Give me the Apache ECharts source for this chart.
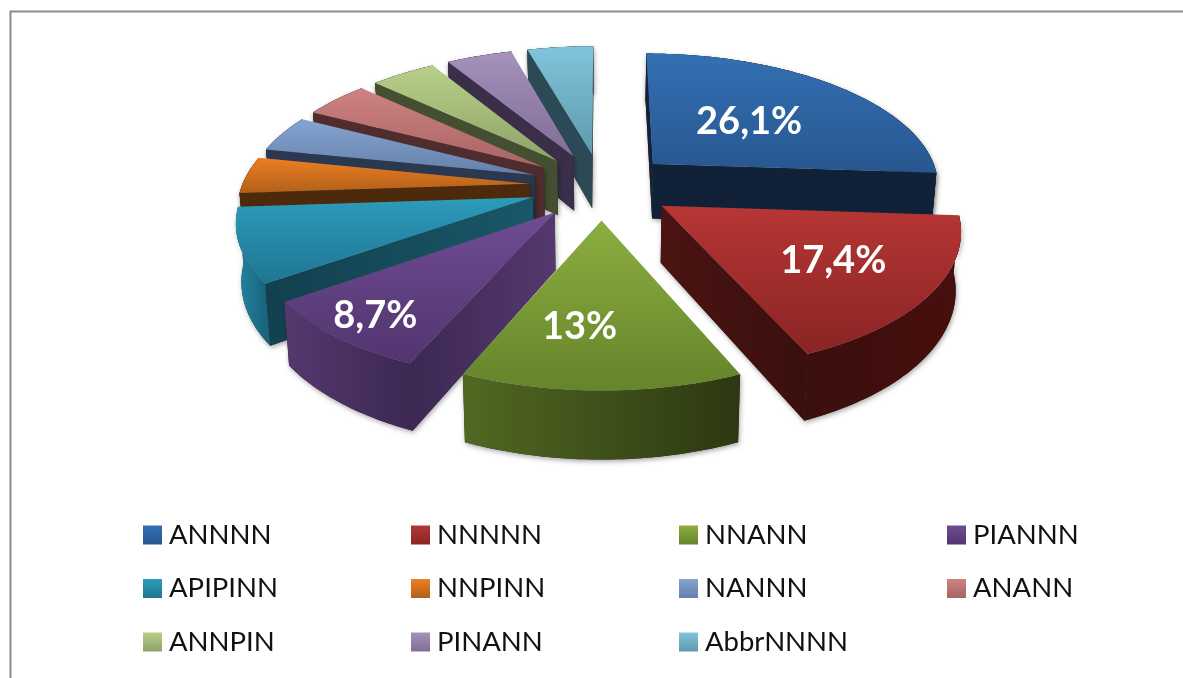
<!DOCTYPE html>
<html>
<head>
<meta charset="utf-8">
<style>html,body{margin:0;padding:0;background:#fff}#c{width:1183px;height:678px}</style>
<script src="https://cdn.jsdelivr.net/npm/echarts@6/dist/echarts.min.js"></script>
</head>
<body>
<div id="c"></div>
<script>
const categories = ['ANNNN','NNNNN','NNANN','PIANNN','APIPINN','NNPINN','NANNN','ANANN','ANNPIN','PINANN','AbbrNNNN'];
const values = [26.1,17.4,13,8.7,8.7,4.35,4.35,4.35,4.35,4.35,4.35];
const labels = ['26,1%','17,4%','13%','8,7%','','','','','','',''];
const topColors = [['#3370b3','#28568f'],['#b63635','#8a2424'],['#8bae3f','#65842c'],['#6e4c92','#52356f'],['#2d9cbb','#1f7591'],['#ee7f22','#b0601a'],['#86a4d2','#6480a8'],['#cf8282','#a86464'],['#b8d08a','#8ea368'],['#a591bc','#806e96'],['#80c4db','#5f9aad']];
const arcColors = [['#14263f','#102035'],['#3a0f0d','#470f0d'],['#516822','#2c3811'],['#54386f','#3c2852'],['#2387a5','#175f76'],['#54300d','#4a280a'],['#2c3a52','#28344a'],['#52302f','#4c2b2c'],['#465232','#404b2e'],['#3f334c','#372c44'],['#314f5a','#2b4650']];
const wallColors = [['#112238','#112238'],['#4a1412','#3a0f0d'],['#3f4f1a','#3f4f1a'],['#3c2852','#54386f'],['#12404f','#195768'],['#4d2a0b','#4d2a0b'],['#2a3850','#2a3850'],['#4f2d2f','#4f2d2f'],['#434f30','#434f30'],['#3a2e48','#3a2e48'],['#2c4a55','#2c4a55']];
const labelNudge = [[-17,7],[16,4],[-22,11],[-55,32],[0,0],[0,0],[0,0],[0,0],[0,0],[0,0],[0,0]];

const P = {cx:601.5, cy:186, f:288, a:0.15, b:133, d:0.25, h:56, shrink:0.985};
const total = values.reduce((s,v)=>s+v,0);
const starts = values.map((_,i)=>values.slice(0,i).reduce((s,v)=>s+v,0)/total*Math.PI*2);

function proj(u,v,bottom){
  const w = 1 - P.a*v;
  let x = P.f*u/w, y = P.b*v/w;
  if(bottom){ x *= P.shrink; y += P.h/w; }
  return [P.cx+x, P.cy+y];
}
function model(theta,r,mid){
  return [P.d*Math.sin(mid)+r*Math.sin(theta), -P.d*Math.cos(mid)-r*Math.cos(theta)];
}
function vgrad(c){return new echarts.graphic.LinearGradient(0,0,0,1,[{offset:0,color:c[0]},{offset:1,color:c[1]}]);}
function hgrad(c){return new echarts.graphic.LinearGradient(0,0,1,0,[{offset:0,color:c[0]},{offset:1,color:c[1]}]);}
const shadow = {shadowColor:'rgba(0,0,0,0.35)',shadowBlur:5,shadowOffsetX:1,shadowOffsetY:2};

function renderSlice(params, api){
  const i = params.seriesIndex;
  const val = api.value(0);
  const t0 = starts[i], t1 = t0 + val/total*Math.PI*2, mid=(t0+t1)/2;
  const n = Math.max(4,Math.round((t1-t0)/(Math.PI/180)));
  const apexM = model(0,0,mid);
  const apexT = proj(apexM[0],apexM[1],false), apexB = proj(apexM[0],apexM[1],true);
  const rimT=[], rimB=[];
  for(let k=0;k<=n;k++){
    const m = model(t0+(t1-t0)*k/n,1,mid);
    rimT.push(proj(m[0],m[1],false));
    rimB.push(proj(m[0],m[1],true));
  }
  const arcPts = rimT.concat(rimB.slice().reverse());
  const walls=[];
  const midRim = rimT[Math.floor(n/2)];
  [rimT[0],rimT[n]].forEach((end,idx)=>{
    const e=[end[0]-apexT[0],end[1]-apexT[1]], p=[midRim[0]-apexT[0],midRim[1]-apexT[1]];
    const side = e[0]*p[1]-e[1]*p[0], down = e[0];
    if(side*down<0){
      walls.push([apexT,end,idx===0?rimB[0]:rimB[n],apexB]);
    }
  });
  const children=[];
  // shadow pass, then clean faces so that no shadow falls across the slice itself
  children.push({type:'polygon',shape:{points:arcPts},style:Object.assign({fill:'#222'},shadow)});
  walls.forEach(w=>children.push({type:'polygon',shape:{points:w},style:Object.assign({fill:'#222'},shadow)}));
  children.push({type:'polygon',shape:{points:arcPts},style:{fill:hgrad(arcColors[i])}});
  walls.forEach(w=>children.push({type:'polygon',shape:{points:w},style:{fill:hgrad(wallColors[i])}}));
  children.push({type:'polygon',shape:{points:[apexT].concat(rimT)},style:{fill:vgrad(topColors[i])}});
  if(labels[i]){
    const m = model(mid,0.6,mid), q = proj(m[0],m[1],false);
    children.push({type:'text',style:{text:labels[i],x:q[0]+labelNudge[i][0],y:q[1]+labelNudge[i][1],fill:'#fff',font:'bold 38px Lato',textAlign:'center',textVerticalAlign:'middle'}});
  }
  return {type:'group',children};
}

const depthOrder = values.map((_,i)=>{
  const mid = starts[i]+values[i]/total*Math.PI;
  return -Math.cos(mid);
});
const ranks = depthOrder.map(d=>depthOrder.filter(x=>x<d).length);

const legendCols = [0,1,2,3].map(c=>categories.filter((_,i)=>i%4===c));
const legendLeft = [143,411,679,947];

const option = {
  backgroundColor:'#fff',
  animation:false,
  legend: legendCols.map((names,c)=>({
    orient:'vertical', left:legendLeft[c], top:521, itemWidth:19, itemHeight:19, itemGap:25.5,
    selectedMode:false, icon:'rect', padding:0,
    textStyle:{fontFamily:'Lato',fontSize:27.5,color:'#111',lineHeight:19,padding:[0,0,0,2]},
    data:names.map(n=>({name:n,icon:'rect',itemStyle:{color:vgrad(topColors[categories.indexOf(n)])}}))
  })),
  graphic:[
    {type:'polyline',z:-1,silent:true,shape:{points:[[10.5,678],[10.5,11.5],[1183,11.5]]},style:{stroke:'#8c8c8c',lineWidth:2,fill:null}}
  ],
  series: categories.map((name,i)=>({
    type:'custom', name, coordinateSystem:'none', z:2+ranks[i], silent:true,
    renderItem:renderSlice, data:[[values[i]]], itemStyle:{color:topColors[i][0]}
  }))
};
echarts.init(document.getElementById('c'),null,{renderer:'canvas'}).setOption(option);
</script>
</body>
</html>
